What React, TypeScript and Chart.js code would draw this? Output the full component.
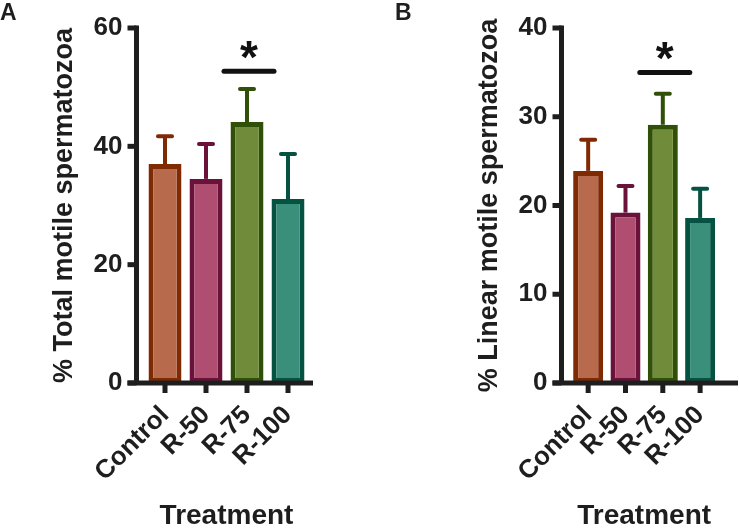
import React, { useEffect, useRef } from 'react';
import { Chart, registerables } from 'chart.js';

Chart.register(...registerables);

const categories = ['Control', 'R-50', 'R-75', 'R-100'];
const totalMeans = [37.0, 34.5, 44.1, 31.1];
const totalErrors = [4.7, 5.9, 5.6, 7.6];
const totalTicks = [0, 20, 40, 60];
const totalSigLevel = 52.7;
const linearMeans = [23.9, 19.2, 29.1, 18.6];
const linearErrors = [3.5, 3.0, 3.5, 3.3];
const linearTicks = [0, 10, 20, 30, 40];
const linearSigLevel = 35.0;
const sigCategory = 2;
const fillColors = ['#B86A4D', '#B04E72', '#708C3A', '#3A8F7A'];
const borderColors = ['#802A04', '#6A123A', '#305008', '#065242'];

const FONT = "'Liberation Sans', Arial, Helvetica, sans-serif";
const INK = '#1e1e1e';

type PanelProps = {
  letter: string;
  letterX: number;
  shift: number;
  yTitle: string;
  means: number[];
  errors: number[];
  ticks: number[];
  sigLevel: number;
  left: number;
};

function Panel(props: PanelProps) {
  const ref = useRef<HTMLCanvasElement>(null);
  useEffect(() => {
    const { letter, letterX, shift, yTitle, means, errors, ticks, sigLevel } = props;
    const W = 370;
    const H = 530;
    const top = 28;
    const bottom = 383;
    const chartLeft = 144.5 + shift;
    const chartRight = chartLeft + 164;
    const axisX = 136.5 + shift;
    const axisEnd = 313 + shift;
    const yMax = ticks[ticks.length - 1];

    const plugin = {
      id: 'prismDecor',
      beforeDatasetsDraw(chart: any) {
        const ctx = chart.ctx;
        const meta = chart.getDatasetMeta(0);
        const ys = chart.scales.y;
        ctx.save();
        meta.data.forEach((el: any, i: number) => {
          const yTop = ys.getPixelForValue(means[i] + errors[i]);
          ctx.strokeStyle = borderColors[i];
          ctx.lineWidth = 4;
          ctx.lineCap = 'butt';
          ctx.beginPath();
          ctx.moveTo(el.x, el.y);
          ctx.lineTo(el.x, yTop);
          ctx.stroke();
          ctx.lineCap = 'round';
          ctx.beginPath();
          ctx.moveTo(el.x - 7, yTop);
          ctx.lineTo(el.x + 7, yTop);
          ctx.stroke();
        });
        ctx.restore();
      },
      afterDatasetsDraw(chart: any) {
        const ctx = chart.ctx;
        const ys = chart.scales.y;
        const xs = chart.scales.x;
        const y0 = ys.getPixelForValue(0);
        const yTopAxis = ys.getPixelForValue(yMax);
        ctx.save();
        ctx.strokeStyle = INK;
        ctx.lineWidth = 5;
        ctx.lineCap = 'butt';
        ctx.beginPath();
        ctx.moveTo(axisX, yTopAxis - 2.5);
        ctx.lineTo(axisX, y0);
        ctx.stroke();
        ticks.forEach((v) => {
          const py = ys.getPixelForValue(v);
          ctx.beginPath();
          ctx.moveTo(axisX - 9, py);
          ctx.lineTo(axisX, py);
          ctx.stroke();
        });
        ctx.beginPath();
        ctx.moveTo(axisX - 9, y0);
        ctx.lineTo(axisEnd, y0);
        ctx.stroke();
        categories.forEach((_, i) => {
          const px = xs.getPixelForValue(i);
          ctx.beginPath();
          ctx.moveTo(px, y0);
          ctx.lineTo(px, y0 + 10);
          ctx.stroke();
        });
        const cx = xs.getPixelForValue(sigCategory);
        const sy = ys.getPixelForValue(sigLevel);
        ctx.strokeStyle = '#111';
        ctx.lineCap = 'round';
        ctx.beginPath();
        ctx.moveTo(cx - 23, sy);
        ctx.lineTo(cx + 27, sy);
        ctx.stroke();
        ctx.fillStyle = '#111';
        ctx.font = `bold 46px ${FONT}`;
        ctx.textAlign = 'center';
        ctx.textBaseline = 'alphabetic';
        ctx.fillText('*', cx + 2, sy + 2);
        ctx.fillStyle = INK;
        ctx.font = `bold 23px ${FONT}`;
        ctx.textAlign = 'left';
        ctx.textBaseline = 'top';
        ctx.fillText(letter, letterX, 2);
        ctx.restore();
      },
    };

    const chart = new Chart(ref.current as HTMLCanvasElement, {
      type: 'bar',
      data: {
        labels: categories,
        datasets: [
          {
            data: means,
            backgroundColor: fillColors,
            borderColor: borderColors,
            borderWidth: 5,
            borderSkipped: false,
            categoryPercentage: 1,
            barPercentage: 33 / 41,
          },
        ],
      },
      options: {
        animation: false,
        responsive: false,
        events: [],
        plugins: { legend: { display: false }, tooltip: { enabled: false } },
        layout: { autoPadding: false, padding: { left: 0, top: top, right: W - chartRight, bottom: 0 } },
        scales: {
          x: {
            type: 'category',
            offset: true,
            grid: { display: false, drawTicks: false },
            border: { display: false },
            ticks: {
              color: INK,
              font: { family: FONT, size: 26, weight: 'bold' },
              minRotation: 45,
              maxRotation: 45,
              padding: 17,
              autoSkip: false,
            },
            title: {
              display: true,
              text: 'Treatment',
              color: INK,
              font: { family: FONT, size: 28, weight: 'bold', lineHeight: 1 },
              padding: { top: 0, bottom: 0 },
            },
            afterFit(s: any) {
              s.height = H - bottom;
              s.paddingTop = 0;
              s.paddingBottom = 0;
            },
          },
          y: {
            min: 0,
            max: yMax,
            grid: { display: false, drawTicks: false },
            border: { display: false },
            ticks: {
              color: INK,
              font: { family: FONT, size: 26, weight: 'bold' },
              padding: 22,
            },
            afterBuildTicks(s: any) {
              s.ticks = ticks.map((v) => ({ value: v }));
            },
            title: {
              display: true,
              text: yTitle,
              color: INK,
              font: { family: FONT, size: 27, weight: 'bold', lineHeight: 1 },
              padding: { top: 51.5 + shift, bottom: 0 },
            },
            afterFit(s: any) {
              s.width = chartLeft;
              s.paddingTop = 0;
              s.paddingBottom = 0;
            },
          },
        },
      },
      plugins: [plugin],
    } as any);
    return () => chart.destroy();
  }, []);
  return (
    <canvas
      ref={ref}
      width={370}
      height={530}
      style={{ position: 'absolute', left: props.left, top: 0, width: 370, height: 530 }}
    />
  );
}

export default function App() {
  return (
    <div style={{ position: 'absolute', left: 0, top: 0, width: 740, height: 530, background: '#fff' }}>
      <Panel
        letter="A"
        letterX={0}
        shift={0}
        yTitle="% Total motile spermatozoa"
        means={totalMeans}
        errors={totalErrors}
        ticks={totalTicks}
        sigLevel={totalSigLevel}
        left={0}
      />
      <Panel
        letter="B"
        letterX={25}
        shift={55}
        yTitle="% Linear motile spermatozoa"
        means={linearMeans}
        errors={linearErrors}
        ticks={linearTicks}
        sigLevel={linearSigLevel}
        left={370}
      />
    </div>
  );
}
